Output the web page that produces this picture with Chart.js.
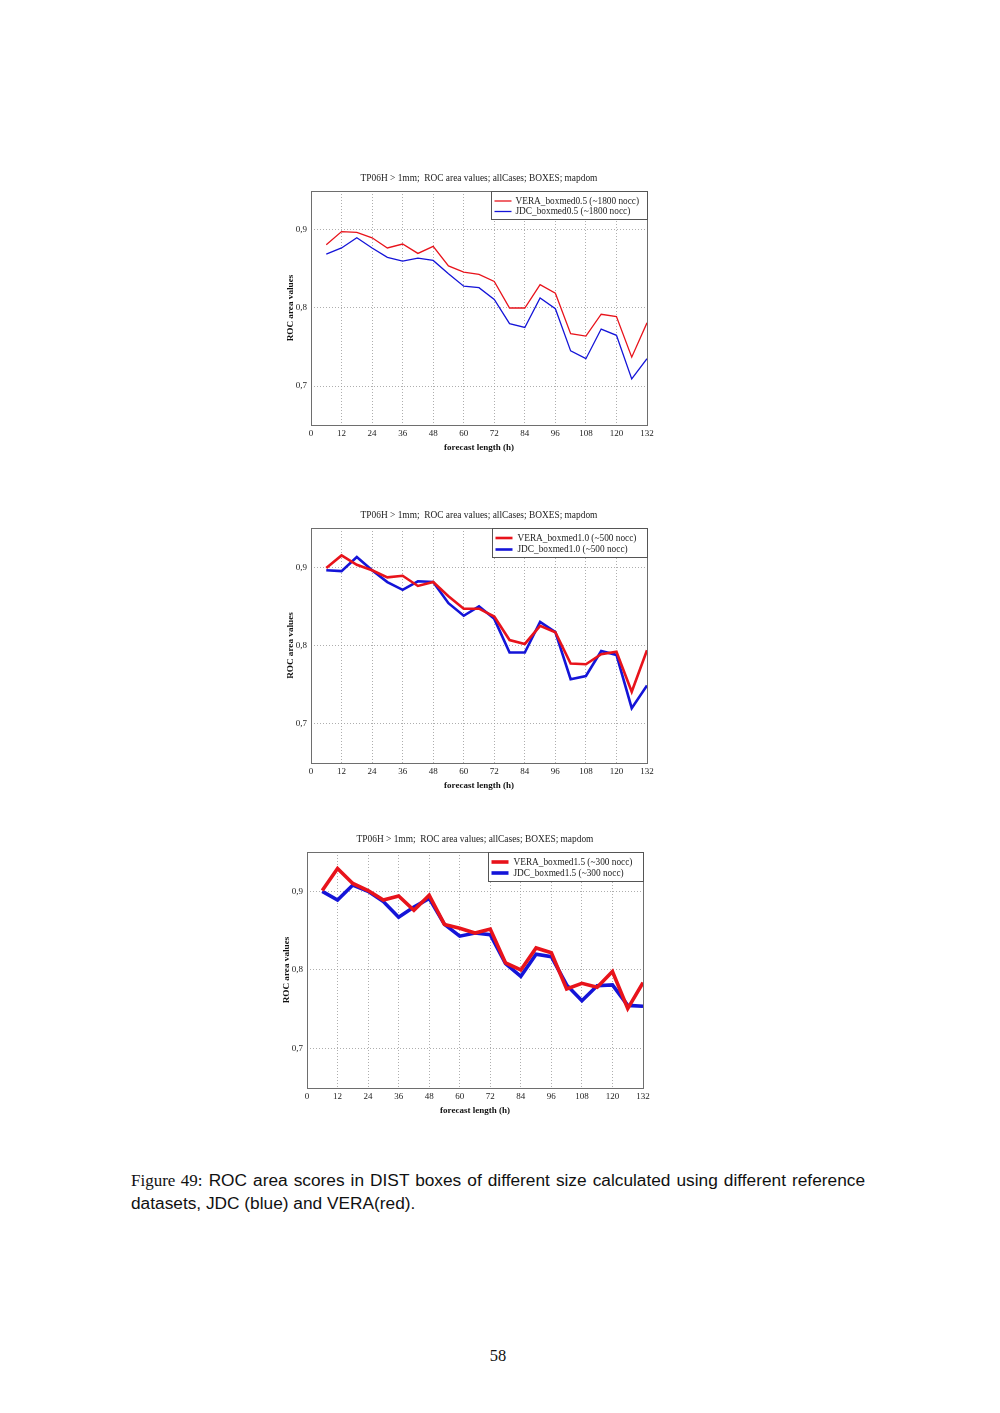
<!DOCTYPE html>
<html>
<head>
<meta charset="utf-8">
<script src="https://cdn.jsdelivr.net/npm/chart.js@4.4.0/dist/chart.umd.min.js"></script>
<style>
  html, body { margin: 0; padding: 0; background: #fff; }
  body { width: 1000px; height: 1413px; position: relative; overflow: hidden; }
  .box { position: absolute; }
  .box canvas { display: block; }
  .cap { position: absolute; left: 131px; width: 734px; font-family: "Liberation Sans", Arial, sans-serif; font-size: 17.3px; line-height: 22px; color: #111; white-space: nowrap; }
  #cap1 { top: 1169px; text-align: justify; text-align-last: justify; }
  #cap2 { top: 1192px; text-align: left; }
  .fig { font-family: "Liberation Serif", "DejaVu Serif", serif; font-size: 17px; }
  #pagenum { position: absolute; left: 0; width: 996px; top: 1346px; text-align: center; font-family: "Liberation Serif", serif; font-size: 16.5px; color: #111; }
</style>
</head>
<body>
<div class="box" id="b1"><canvas id="c1"></canvas></div>
<div class="box" id="b2"><canvas id="c2"></canvas></div>
<div class="box" id="b3"><canvas id="c3"></canvas></div>
<div class="cap" id="cap1"><span class="fig">Figure 49:</span> <span>ROC area scores in DIST boxes of different size calculated using different reference</span></div>
<div class="cap" id="cap2"><span>datasets, JDC (blue) and VERA(red).</span></div>
<div id="pagenum">58</div>
<script>
// ---- data ----
const forecastHours = [6,12,18,24,30,36,42,48,54,60,66,72,78,84,90,96,102,108,114,120,126,132];
const xTickValues = [0,12,24,36,48,60,72,84,96,108,120,132];
const yTickValues = [0.7,0.8,0.9];

const vera05 = [0.881,0.898,0.897,0.890,0.877,0.882,0.870,0.879,0.854,0.846,0.843,0.834,0.800,0.800,0.830,0.819,0.767,0.764,0.792,0.789,0.737,0.781];
const jdc05  = [0.869,0.877,0.890,0.877,0.865,0.860,0.864,0.861,0.844,0.828,0.826,0.811,0.780,0.775,0.813,0.799,0.745,0.735,0.773,0.765,0.709,0.735];

const vera10 = [0.899,0.915,0.903,0.896,0.887,0.889,0.876,0.881,0.863,0.847,0.847,0.837,0.807,0.802,0.825,0.817,0.777,0.776,0.789,0.792,0.741,0.794];
const jdc10  = [0.896,0.895,0.913,0.896,0.881,0.871,0.882,0.881,0.854,0.838,0.850,0.834,0.791,0.791,0.830,0.817,0.757,0.761,0.793,0.788,0.720,0.749];

const vera15 = [0.901,0.929,0.910,0.901,0.889,0.894,0.876,0.895,0.858,0.853,0.847,0.852,0.809,0.800,0.828,0.822,0.776,0.783,0.778,0.798,0.751,0.784];
const jdc15  = [0.900,0.889,0.908,0.900,0.887,0.867,0.880,0.891,0.858,0.843,0.847,0.845,0.808,0.792,0.820,0.817,0.781,0.761,0.780,0.781,0.755,0.754];

const titleText = "TP06H > 1mm;  ROC area values; allCases; BOXES; mapdom";
const xTitle = "forecast length (h)";
const yTitle = "ROC area values";
const labels05 = ["VERA_boxmed0.5 (~1800 nocc)", "JDC_boxmed0.5 (~1800 nocc)"];
const labels10 = ["VERA_boxmed1.0 (~500 nocc)", "JDC_boxmed1.0 (~500 nocc)"];
const labels15 = ["VERA_boxmed1.5 (~300 nocc)", "JDC_boxmed1.5 (~300 nocc)"];

const RED = "#e8131b";
const BLUE = "#1414d8";
const SERIF = "'Liberation Serif', 'Times New Roman', serif";
const TITLE_SIZE = 9.4;

// frame + legend plugin
const framePlugin = {
  id: 'frameLegend',
  afterDatasetsDraw(chart, args, opts) {
    const ctx = chart.ctx, a = chart.chartArea;
    ctx.save();
    ctx.setLineDash([]);
    ctx.strokeStyle = '#6e6e6e';
    ctx.lineWidth = 1;
    ctx.strokeRect(Math.round(a.left) + 0.5, Math.round(a.top) + 0.5, Math.round(a.right - a.left), Math.round(a.bottom - a.top));
    // legend
    const w = opts.w, h = opts.h;
    const x0 = Math.round(a.right) - w + 0.5, y0 = Math.round(a.top) + 0.5;
    ctx.fillStyle = '#fff';
    ctx.fillRect(x0, y0, w, h);
    ctx.strokeStyle = '#555';
    ctx.strokeRect(x0, y0, w, h);
    ctx.font = opts.font;
    ctx.textBaseline = 'middle';
    ctx.textAlign = 'left';
    chart.data.datasets.forEach((ds, i) => {
      const yy = y0 + opts.row0 + i * opts.rowGap;
      ctx.strokeStyle = ds.borderColor;
      ctx.lineWidth = ds.borderWidth;
      ctx.beginPath();
      ctx.moveTo(x0 + 3, yy);
      ctx.lineTo(x0 + 20, yy);
      ctx.stroke();
      ctx.fillStyle = '#222';
      ctx.fillText(ds.label, x0 + opts.textX, yy + 0.5);
    });
    ctx.restore();
  }
};

function makeChart(boxId, canvasId, area, vera, jdc, labels, lw, legendOpts) {
  // symmetric side margins (with a blank right axis) so the title is centred over the plot
  const padL = 40, padT = 30, padR = 40, padB = 32;
  const box = document.getElementById(boxId);
  const W = (area.R - area.L) + padL + padR;
  const H = (area.B - area.T) + padT + padB;
  box.style.left = (area.L - padL) + 'px';
  box.style.top = (area.T - padT) + 'px';
  box.style.width = W + 'px';
  box.style.height = H + 'px';
  const cv = document.getElementById(canvasId);
  cv.width = W; cv.height = H;
  cv.style.width = W + 'px'; cv.style.height = H + 'px';
  const toPts = arr => arr.map((v, i) => ({ x: forecastHours[i], y: v }));
  return new Chart(cv, {
    type: 'line',
    data: {
      datasets: [
        { label: labels[0], data: toPts(vera), borderColor: RED, borderWidth: lw, pointRadius: 0, tension: 0, fill: false },
        { label: labels[1], data: toPts(jdc), borderColor: BLUE, borderWidth: lw, pointRadius: 0, tension: 0, fill: false }
      ]
    },
    options: {
      responsive: false,
      maintainAspectRatio: false,
      animation: false,
      devicePixelRatio: 1,
      layout: { padding: { left: padL - 28, right: padR - 28, top: 0, bottom: padB - 28 } },
      plugins: {
        legend: { display: false },
        tooltip: { enabled: false },
        title: {
          display: true, text: titleText, color: '#222',
          font: { family: SERIF, size: TITLE_SIZE, weight: 'normal' },
          padding: { top: 12, bottom: padT - 12 - TITLE_SIZE * 1.2 }
        },
        frameLegend: legendOpts
      },
      scales: {
        x: {
          type: 'linear', min: 0, max: 132,
          afterFit: s => { s.height = 28; },
          afterBuildTicks: s => { s.ticks = xTickValues.map(v => ({ value: v })); },
          grid: { color: '#999', lineWidth: 0.8, drawTicks: false },
          border: { display: false, dash: [1, 2] },
          ticks: { color: '#222', padding: 3, maxRotation: 0, autoSkip: false, font: { family: SERIF, size: 9 }, callback: v => String(v) },
          title: { display: true, text: xTitle, color: '#111', font: { family: SERIF, size: 9, weight: 'bold' }, padding: { top: 2.4, bottom: 0 } }
        },
        y: {
          type: 'linear', min: 0.65, max: 0.95,
          afterFit: s => { s.width = 28; },
          afterBuildTicks: s => { s.ticks = yTickValues.map(v => ({ value: v })); },
          grid: { color: '#999', lineWidth: 0.8, drawTicks: false },
          border: { display: false, dash: [1, 2] },
          ticks: { color: '#222', padding: 4, font: { family: SERIF, size: 9 }, callback: v => v.toFixed(1).replace('.', ',') },
          title: { display: true, text: yTitle, color: '#111', font: { family: SERIF, size: 9.2, weight: 'bold' }, padding: { top: 2, bottom: 0 } }
        },
        yBlank: {
          type: 'linear', position: 'right', min: 0, max: 1,
          afterFit: s => { s.width = 28; },
          grid: { display: false, drawTicks: false },
          border: { display: false },
          ticks: { display: false },
          title: { display: false }
        }
      }
    },
    plugins: [framePlugin]
  });
}

const legendFont = "9.3px " + SERIF;
makeChart('b1', 'c1', { L: 311, R: 647, T: 191, B: 425 }, vera05, jdc05, labels05, 1.3,
  { w: 156, h: 28, row0: 9.5, rowGap: 10.5, textX: 24, font: legendFont });
makeChart('b2', 'c2', { L: 311, R: 647, T: 528, B: 763 }, vera10, jdc10, labels10, 2.6,
  { w: 155, h: 29, row0: 9.5, rowGap: 11.5, textX: 25, font: legendFont });
makeChart('b3', 'c3', { L: 307, R: 643, T: 852, B: 1088 }, vera15, jdc15, labels15, 3.6,
  { w: 155, h: 29, row0: 9.5, rowGap: 11, textX: 25, font: legendFont });
</script>
</body>
</html>
